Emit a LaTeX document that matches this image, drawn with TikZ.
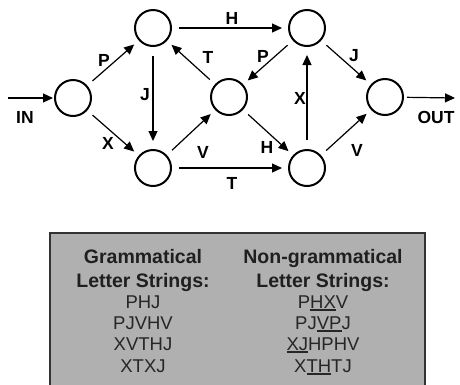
\documentclass[tikz,border=0pt]{standalone}
\usepackage{fontspec}
\setmainfont{Liberation Sans}
\usetikzlibrary{arrows.meta}
\newcommand\myul[1]{\setbox0\hbox{#1}\rlap{\color{black!85}\rule[-2.6pt]{\wd0}{1.5pt}}\box0}
\begin{document}
\begin{tikzpicture}[x=1pt,y=-1pt,
  state/.style={circle,draw,line width=2pt,minimum size=36pt,inner sep=0pt},
  edge/.style={line width=1.2pt,-{Triangle[length=10pt,width=9pt]},shorten <=7pt,shorten >=6pt},
  lab/.style={font=\fontsize{17.5}{20}\selectfont\bfseries,inner sep=0pt},
  head/.style={font=\fontsize{19.5}{22}\selectfont\bfseries,anchor=base,inner sep=0pt,text=black!88},
  item/.style={font=\fontsize{18.5}{21}\selectfont,anchor=base,inner sep=0pt,text=black!85}]
\useasboundingbox (0,0) rectangle (460,384);
% box
\path[clip] (0,0) rectangle (460,384);
\draw[fill=black!31,draw=black!80,line width=1.3pt] (50,233) rectangle (425,400);
% states
\node[state] (n1) at (73,98) {};
\node[state] (n2) at (153,28) {};
\node[state] (n3) at (153,168) {};
\node[state] (n4) at (229,97) {};
\node[state] (n5) at (307,28) {};
\node[state] (n6) at (307,168) {};
\node[state] (n7) at (385,97) {};
\coordinate (in) at (8,98);
\coordinate (out) at (455,98);
% edges
\draw[edge,shorten <=0pt,shorten >=1pt] (in) -- (n1);
\draw[edge,shorten <=3pt,shorten >=0pt] (n7) -- (out);
\draw[edge] (n1) -- (n2);
\draw[edge] (n1) -- (n3);
\draw[edge,shorten <=9pt,shorten >=8pt] (n2) -- (n3);
\draw[edge] (n2) -- (n5);
\draw[edge] (n4) -- (n2);
\draw[edge] (n3) -- (n4);
\draw[edge] (n3) -- (n6);
\draw[edge] (n5) -- (n4);
\draw[edge] (n4) -- (n6);
\draw[edge,shorten <=9pt,shorten >=8pt] (n6) -- (n5);
\draw[edge] (n5) -- (n7);
\draw[edge] (n6) -- (n7);
% labels
\node[lab] (lin) at (25,117) {IN};
\node[lab] (lout) at (436,117) {OUT};
\node[lab] (l12) at (104,60) {P};
\node[lab] (l13) at (108,143) {X};
\node[lab] (l23) at (145,95) {J};
\node[lab] (l25) at (232,18) {H};
\node[lab] (l42) at (208,57) {T};
\node[lab] (l34) at (203,152) {V};
\node[lab] (l36) at (232,183) {T};
\node[lab] (l54) at (263,56) {P};
\node[lab] (l46) at (267,147) {H};
\node[lab] (l65) at (300,98) {X};
\node[lab] (l57) at (354,56) {J};
\node[lab] (l67) at (357,150) {V};
% table text
\node[head] (g1) at (143,263) {Grammatical};
\node[head] (g2) at (143,287) {Letter Strings:};
\node[item] (g3) at (143,308) {PHJ};
\node[item] (g4) at (143,329) {PJVHV};
\node[item] (g5) at (143,350) {XVTHJ};
\node[item] (g6) at (143,372) {XTXJ};
\node[head] (ng1) at (323,263) {Non-grammatical};
\node[head] (ng2) at (323,287) {Letter Strings:};
\node[item] (ng3) at (323,308) {P\myul{HX}V};
\node[item] (ng4) at (323,329) {PJ\myul{VP}J};
\node[item] (ng5) at (323,350) {\myul{XJ}HPHV};
\node[item] (ng6) at (323,372) {X\myul{TH}TJ};
\end{tikzpicture}
\end{document}
